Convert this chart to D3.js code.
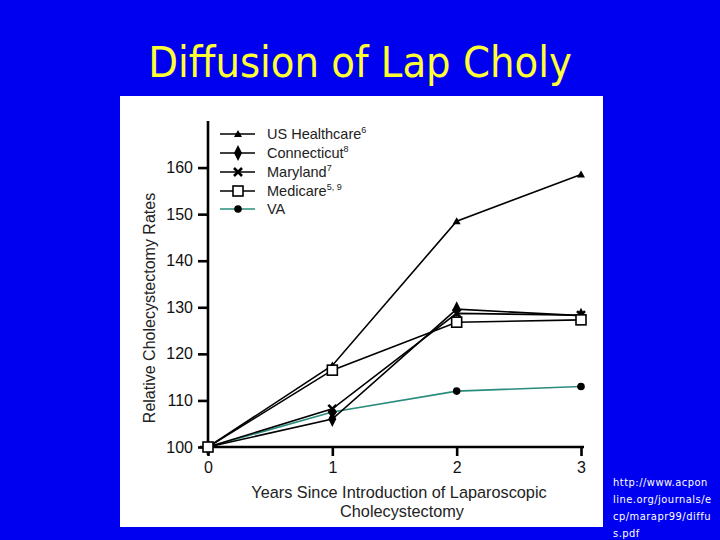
<!DOCTYPE html>
<html><head><meta charset="utf-8">
<script src="https://cdn.jsdelivr.net/npm/d3@7"></script>
<style>body{margin:0;background:#0000f0;} svg{display:block;}</style>
</head><body>
<svg id="c" width="720" height="540"></svg>
<script>
const years = [0, 1, 2, 3];
const yTicks = [100, 110, 120, 130, 140, 150, 160];
const usHealthcare = [100, 117.5, 148.5, 158.5];
const connecticut = [100, 106, 129.6, 128.2];
const maryland = [100, 108.2, 128.7, 128.3];
const medicare = [100, 116.5, 126.8, 127.3];
const va = [100, 107.5, 112, 113];
const seriesNames = ["US Healthcare", "Connecticut", "Maryland", "Medicare", "VA"];
const seriesSup = ["6", "8", "7", "5, 9", ""];
const title = "Diffusion of Lap Choly";
const xTitle1 = "Years Since Introduction of Laparoscopic";
const xTitle2 = "Cholecystectomy";
const yTitle = "Relative Cholecystectomy Rates";
const urlLines = ["http://www.acpon", "line.org/journals/e", "cp/marapr99/diffu", "s.pdf"];

const svg = d3.select("#c");
svg.append("rect").attr("width", 720).attr("height", 540).attr("fill", "#0000f0");
svg.append("text").attr("x", 360).attr("y", 77).attr("text-anchor", "middle")
  .attr("font-family", "DejaVu Sans Condensed, DejaVu Sans").attr("font-size", 43)
  .attr("fill", "#ffff33").text(title);

// white panel
svg.append("rect").attr("x", 120).attr("y", 96).attr("width", 483).attr("height", 431).attr("fill", "#fff");

const x = d3.scaleLinear().domain([0, 3]).range([208, 581]);
const y = d3.scaleLinear().domain([100, 170]).range([447, 121]);

const font = "Liberation Sans, Arial, Helvetica, sans-serif";
const yAxis = svg.append("g").attr("transform", "translate(208,0)")
  .call(d3.axisLeft(y).tickValues(yTicks).tickSize(10).tickPadding(5).tickSizeOuter(0));
yAxis.select(".domain").attr("stroke", "#000").attr("stroke-width", 2.6).attr("d", `M0,${y(170)}V455`);
yAxis.selectAll(".tick line").attr("stroke-width", 2.6);
yAxis.selectAll("text").attr("font-family", font).attr("font-size", 16).attr("fill", "#111");

const xAxis = svg.append("g").attr("transform", "translate(0,447)")
  .call(d3.axisBottom(x).tickValues(years).tickFormat(d3.format("d")).tickSize(9).tickPadding(6).tickSizeOuter(0));
xAxis.select(".domain").attr("stroke", "#000").attr("stroke-width", 2.6).attr("d", `M200,0H584`);
xAxis.selectAll(".tick line").attr("stroke-width", 2.6);
xAxis.selectAll("text").attr("font-family", font).attr("font-size", 16).attr("fill", "#111");

svg.append("text").attr("transform", "translate(155,308) rotate(-90)").attr("text-anchor", "middle")
  .attr("font-family", font).attr("font-size", 16).attr("fill", "#222").text(yTitle);
svg.append("text").attr("x", 399).attr("y", 498).attr("text-anchor", "middle")
  .attr("font-family", font).attr("font-size", 16.3).attr("fill", "#222").text(xTitle1);
svg.append("text").attr("x", 402).attr("y", 517).attr("text-anchor", "middle")
  .attr("font-family", font).attr("font-size", 16.3).attr("fill", "#222").text(xTitle2);

const allSeries = [usHealthcare, connecticut, maryland, medicare, va];
const colors = ["#000", "#000", "#000", "#000", "#2a8c7c"];
const markers = ["tri", "dia", "x", "sq", "circ"];
const line = d3.line().x((d, i) => x(years[i])).y(d => y(d));

function drawMarker(g, type, cx, cy, color) {
  if (type === "tri") {
    g.append("path").attr("d", `M${cx},${cy-4}L${cx+4},${cy+3}L${cx-4},${cy+3}Z`).attr("fill", "#000");
  } else if (type === "dia") {
    g.append("path").attr("d", `M${cx},${cy-8}L${cx+4},${cy}L${cx},${cy+8}L${cx-4},${cy}Z`).attr("fill", "#000");
  } else if (type === "x") {
    g.append("path").attr("d", `M${cx-4},${cy-4}L${cx+4},${cy+4}M${cx+4},${cy-4}L${cx-4},${cy+4}`).attr("stroke", "#000").attr("stroke-width", 2.6);
  } else if (type === "sq") {
    g.append("rect").attr("x", cx-5).attr("y", cy-5).attr("width", 10).attr("height", 10).attr("fill", "#fff").attr("stroke", "#000").attr("stroke-width", 1.6);
  } else {
    g.append("circle").attr("cx", cx).attr("cy", cy).attr("r", 3.8).attr("fill", "#000");
  }
}

const drawOrder = [4, 0, 1, 2, 3];
drawOrder.forEach(si => {
  const data = allSeries[si];
  svg.append("path").datum(data).attr("d", line).attr("fill", "none")
    .attr("stroke", colors[si]).attr("stroke-width", 1.6);
});
drawOrder.forEach(si => {
  const g = svg.append("g");
  allSeries[si].forEach((v, i) => drawMarker(g, markers[si], x(years[i]), y(v), colors[si]));
});

// legend
const legY = [134, 153, 172, 191, 209];
seriesNames.forEach((name, i) => {
  const g = svg.append("g");
  g.append("line").attr("x1", 220).attr("x2", 255).attr("y1", legY[i]).attr("y2", legY[i])
    .attr("stroke", colors[i]).attr("stroke-width", 1.6);
  drawMarker(g, markers[i], 238, legY[i], colors[i]);
  const t = g.append("text").attr("x", 267).attr("y", legY[i] + 5)
    .attr("font-family", font).attr("font-size", 14.5).attr("fill", "#222").text(name);
  if (seriesSup[i]) t.append("tspan").attr("dy", -6).attr("font-size", 9).text(seriesSup[i]);
});

// url
urlLines.forEach((s, i) => {
  svg.append("text").attr("x", 613).attr("y", 486 + i * 17)
    .attr("font-family", "DejaVu Sans Condensed, DejaVu Sans").attr("font-size", 11)
    .attr("letter-spacing", 0.5).attr("fill", "#fff").text(s);
});
</script>
</body></html>
